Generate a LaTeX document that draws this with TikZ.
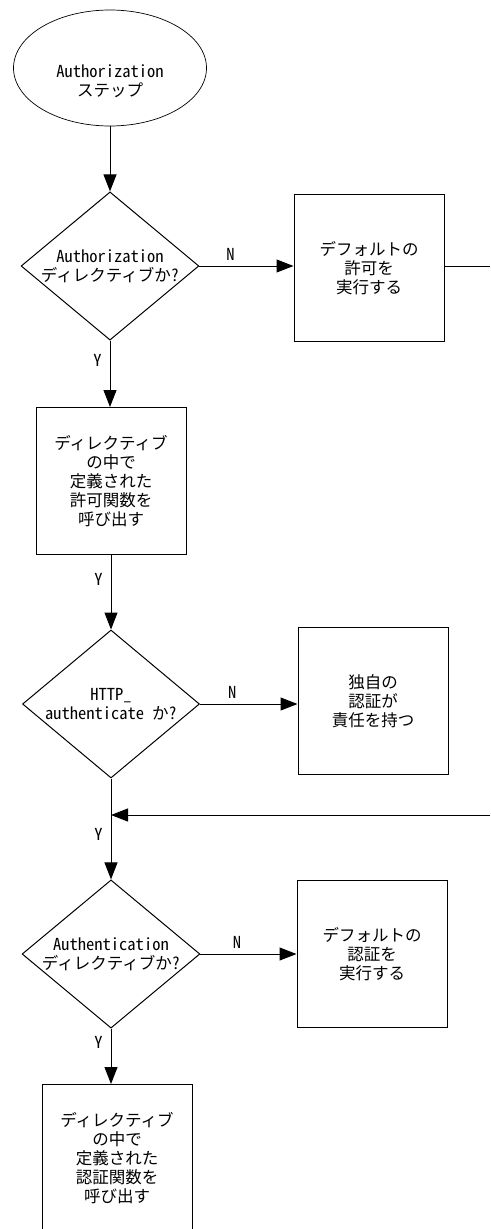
\documentclass[tikz,border=0pt]{standalone}
\usepackage{fontspec}
\setmainfont{Noto Sans CJK JP}[RawFeature=+hwid]
\usetikzlibrary{shapes.geometric,arrows.meta}

\begin{document}
\begin{tikzpicture}[x=1pt, y=-1pt, line width=1pt,
  every node/.style = {align=center, inner sep=0pt, font=\fontsize{16.5}{19}\selectfont},
  terminal/.style = {ellipse, draw, line width=0.7pt, minimum width=193pt, minimum height=116pt},
  decision/.style = {diamond, draw, aspect=1.2, minimum width=177pt, minimum height=148pt},
  process/.style = {rectangle, draw, minimum width=150pt, minimum height=147pt},
  flow/.style = {-{Triangle[length=17pt, width=13pt]}}]

  \useasboundingbox (0,0) rectangle (490,1229);

  \node[terminal] (start) at (110,68) {};
  \node (starttext) at (110,81) {Authorization\\ステップ};
  \node[decision] (isauthz) at (110,266) {Authorization\\ディレクティブか?};
  \node[process] (defauthz) at (369,268) {デフォルトの\\許可を\\実行する};
  \node[process] (callauthz) at (111,481) {ディレクティブ\\の中で\\定義された\\許可関数を\\呼び出す};
  \node[decision] (ishttp) at (111,704) {HTTP\_\\authenticate か?};
  \node[process] (ownauth) at (373,701) {独自の\\認証が\\責任を持つ};
  \node[decision] (isauthn) at (111,954) {Authentication\\ディレクティブか?};
  \node[process] (defauthn) at (372,954) {デフォルトの\\認証を\\実行する};
  \node[process] (callauthn) at (117,1158) {ディレクティブ\\の中で\\定義された\\認証関数を\\呼び出す};

  \coordinate (edgeA) at (490,266);
  \coordinate (edgeB) at (490,815);
  \coordinate (merge) at (111,815);

  \draw[flow] (start.south) -- (isauthz.north);
  \draw[flow] (isauthz.east) -- node[pos=0.33, above=5pt] (nA) {N} (isauthz.east -| defauthz.west);
  \draw (isauthz.east -| defauthz.east) -- (edgeA);
  \draw[flow] (isauthz.south) -- node[pos=0.3, left=8pt] (yA) {Y} (callauthz.north -| isauthz.south);
  \draw[flow] (callauthz.south) -- node[pos=0.33, left=8pt] (yB) {Y} (ishttp.north);
  \draw[flow] (ishttp.east) -- node[pos=0.33, above=5pt] (nB) {N} (ishttp.east -| ownauth.west);
  \draw[flow] (edgeB) -- (merge);
  \draw[flow] (ishttp.south) -- node[pos=0.55, left=8pt] (yC) {Y} (isauthn.north);
  \draw[flow] (isauthn.east) -- node[pos=0.38, above=5pt] (nC) {N} (defauthn.west);
  \draw[flow] (isauthn.south) -- node[pos=0.25, left=8pt] (yD) {Y} (isauthn.south |- callauthn.north);

\end{tikzpicture}
\end{document}
